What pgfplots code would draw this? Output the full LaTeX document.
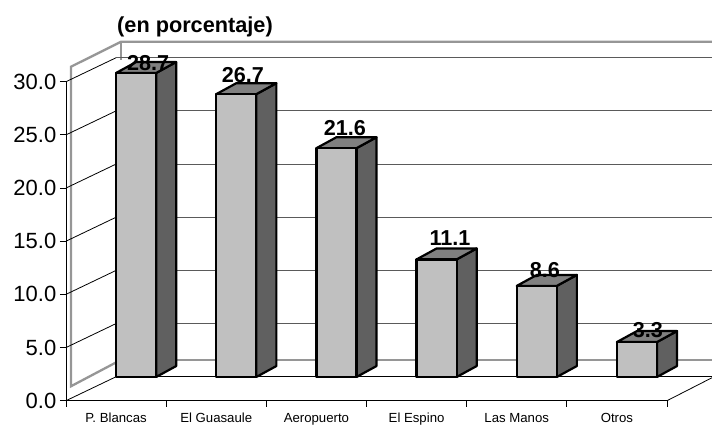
\documentclass[border=0pt]{standalone}
\usepackage{pgfplots}
\usepackage{pgfplotstable}
\usepackage{fontspec}
\setmainfont{Liberation Sans}
\pgfplotsset{compat=1.18}
\definecolor{wallgrey}{HTML}{969696}
\definecolor{gridgrey}{HTML}{5A5A5A}
\definecolor{barfront}{HTML}{C0C0C0}
\definecolor{bartop}{HTML}{808080}
\definecolor{barside}{HTML}{606060}
\pgfplotstableread{
x y label
0.819 31.78 28.7
1.767 30.66 26.7
2.785 25.60 21.6
3.834 15.26 11.1
4.780 12.25 8.6
5.810 6.67 3.3
}\labeltable
\newcommand{\threedbar}[2]{%
  \pgfmathsetmacro{\xa}{#1}%
  \pgfmathsetmacro{\xb}{#1+0.4}%
  \pgfmathsetmacro{\xc}{#1+0.6}%
  \pgfmathsetmacro{\xd}{#1+0.2}%
  \pgfmathsetmacro{\yt}{#2*0.9962+2.23}%
  \pgfmathsetmacro{\ytt}{#2*0.9962+3.26}%
  \addplot[fill=barside,draw=black,line width=2.2pt,line join=round] coordinates {(\xb,2.23) (\xc,3.26) (\xc,\ytt) (\xb,\yt)} --cycle;
  \addplot[fill=bartop,draw=black,line width=2.2pt,line join=round] coordinates {(\xa,\yt) (\xd,\ytt) (\xc,\ytt) (\xb,\yt)} --cycle;
  \addplot[fill=barfront,draw=black,line width=2.2pt,line join=round] coordinates {(\xa,2.23) (\xa,\yt) (\xb,\yt) (\xb,2.23)} --cycle;
}
\begin{document}
\begin{tikzpicture}[x=1pt,y=1pt]
\useasboundingbox (0,0) rectangle (712,424);
\begin{axis}[
  at={(66pt,23.3pt)},anchor=origin,
  scale only axis,width=601pt,height=319pt,
  xmin=0,xmax=6,ymin=0,ymax=30,clip=false,
  axis x line=bottom,axis y line=left,
  axis line style={-,black,line width=0.9pt},
  tick style={black,line width=0.9pt},
  tick align=outside,major tick length=6pt,
  xtick={0,1,2,3,4,5,6},xticklabels={},
  extra x ticks={0.5,1.5,2.5,3.5,4.5,5.5},
  extra x tick labels={P. Blancas,El Guasaule,Aeropuerto,El Espino,Las Manos,Otros},
  extra x tick style={major tick length=0pt,tick label style={font=\fontsize{13.2}{15}\selectfont,text height=10pt,text depth=3pt,yshift=-8.5pt}},
  ytick={0,5,10,15,20,25,30},
  y tick label style={font=\fontsize{22}{24}\selectfont,inner sep=0pt,xshift=-3.5pt},
  /pgf/number format/assume math mode=true,
  /pgf/number format/fixed,/pgf/number format/fixed zerofill,/pgf/number format/precision=1,
]
% back wall frame
\addplot[wallgrey,line width=2.3pt] coordinates {(6.449,33.76) (0.549,33.76) (0.05,31.41) (0.05,1.36) (0.5,3.6)};
\addplot[wallgrey,line width=2.3pt] coordinates {(0.549,33.76) (0.549,32)};
\addplot[wallgrey,line width=2.3pt] coordinates {(0.5,3.8) (6.449,3.8)};
% back gridlines
\addplot[gridgrey,line width=1pt] coordinates {(0.5,32.254) (6.449,32.254)};
\addplot[gridgrey,line width=0.9pt] coordinates {(0.5,27.254) (6.449,27.254)};
\addplot[gridgrey,line width=0.9pt] coordinates {(0.5,22.254) (6.449,22.254)};
\addplot[gridgrey,line width=0.9pt] coordinates {(0.5,17.254) (6.449,17.254)};
\addplot[gridgrey,line width=0.9pt] coordinates {(0.5,12.254) (6.449,12.254)};
\addplot[gridgrey,line width=0.9pt] coordinates {(0.5,7.254) (6.449,7.254)};
\addplot[black,line width=0.9pt] coordinates {(0.5,2.254) (6.449,2.254)};
% depth lines
\addplot[black,line width=0.8pt] coordinates {(0,30) (0.5,32.254)};
\addplot[black,line width=0.8pt] coordinates {(0,25) (0.5,27.254)};
\addplot[black,line width=0.8pt] coordinates {(0,20) (0.5,22.254)};
\addplot[black,line width=0.8pt] coordinates {(0,15) (0.5,17.254)};
\addplot[black,line width=0.8pt] coordinates {(0,10) (0.5,12.254)};
\addplot[black,line width=0.8pt] coordinates {(0,5) (0.5,7.254)};
\addplot[black,line width=0.8pt] coordinates {(0,0) (0.5,2.254)};
\addplot[black,line width=0.8pt] coordinates {(6,0) (6.449,2.16)};
% bars
\threedbar{0.5}{28.7}
\threedbar{1.5}{26.7}
\threedbar{2.5}{21.6}
\threedbar{3.5}{11.1}
\threedbar{4.5}{8.6}
\threedbar{5.5}{3.3}
% data labels
\addplot[only marks,mark=none,point meta=explicit symbolic,
  nodes near coords,
  every node near coord/.style={anchor=center,inner sep=0pt,font=\fontsize{21.6}{23}\selectfont\bfseries,black}]
  table[x=x,y=y,meta=label] {\labeltable};
\end{axis}
\node[font=\fontsize{21.7}{24}\selectfont\bfseries,inner sep=0pt] at (195,397.5) {(en porcentaje)};
\end{tikzpicture}
\end{document}
